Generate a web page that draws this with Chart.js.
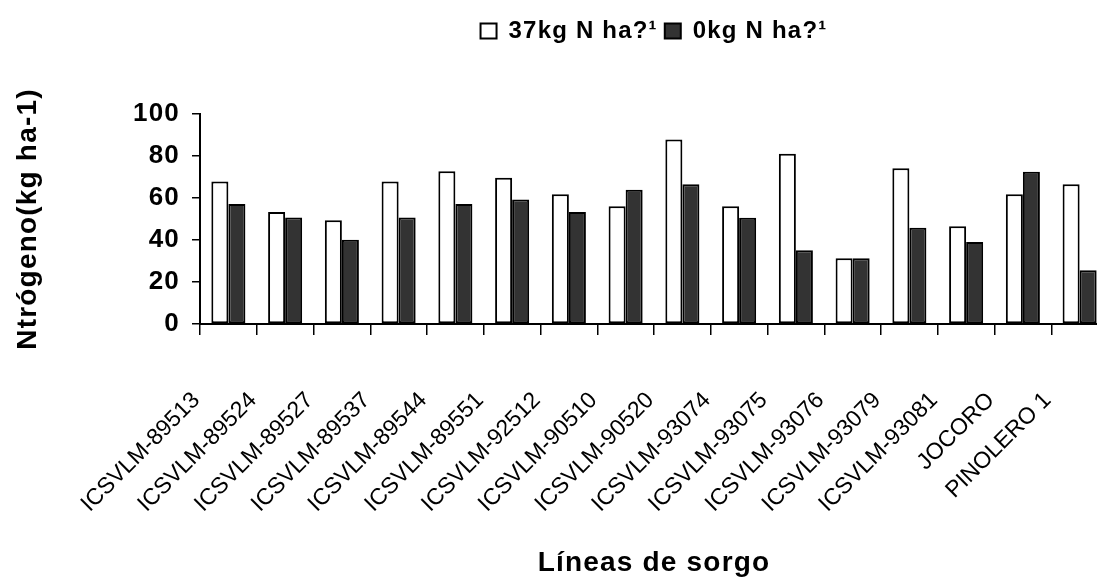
<!DOCTYPE html>
<html>
<head>
<meta charset="utf-8">
<script src="https://cdn.jsdelivr.net/npm/chart.js@4.4.1/dist/chart.umd.min.js"></script>
<style>
  html, body { margin: 0; padding: 0; background: #fff; overflow: hidden; }
  #wrap { width: 1108px; height: 579px; }
</style>
</head>
<body>
<div id="wrap"><canvas id="c" width="1108" height="579"></canvas></div>
<script>
const categories = ['ICSVLM-89513','ICSVLM-89524','ICSVLM-89527','ICSVLM-89537','ICSVLM-89544','ICSVLM-89551','ICSVLM-92512','ICSVLM-90510','ICSVLM-90520','ICSVLM-93074','ICSVLM-93075','ICSVLM-93076','ICSVLM-93079','ICSVLM-93081','JOCORO','PINOLERO 1'];
const series37 = [67.9, 53.3, 49.4, 67.9, 72.7, 69.6, 61.8, 56.1, 87.8, 56.1, 81.1, 31.3, 74.2, 46.6, 61.8, 66.6];
const series0 = [57.2, 50.7, 40.1, 50.7, 57.2, 59.3, 53.3, 63.9, 66.6, 50.6, 35.1, 31.3, 45.8, 39.0, 72.5, 25.6];
const seriesNames = ['37kg N ha?\u00B9', '0kg N ha?\u00B9'];
const yTicks = [0, 20, 40, 60, 80, 100];
const yTitle = 'Ntrógeno(kg ha-1)';
const xTitle = 'Líneas de sorgo';

const FONT = "'Liberation Sans', Arial, Helvetica, sans-serif";

// Titles and legend are drawn with a little letter spacing; category labels without.
const spacingPlugin = {
  id: 'textSpacing',
  beforeLayout(chart) { chart.ctx.letterSpacing = '1.2px'; },
  beforeDraw(chart) { chart.ctx.letterSpacing = '1.2px'; },
  afterDatasetsDraw(chart) { chart.ctx.letterSpacing = '0px'; }
};

new Chart(document.getElementById('c'), {
  type: 'bar',
  plugins: [spacingPlugin],
  data: {
    labels: categories,
    datasets: [
      { label: seriesNames[0], data: series37, backgroundColor: '#ffffff', borderColor: '#000000', borderWidth: 2, borderSkipped: false, barPercentage: 1.0, categoryPercentage: 0.6 },
      { label: seriesNames[1], data: series0, backgroundColor: '#333333', borderColor: '#000000', borderWidth: 2, borderSkipped: false, barPercentage: 1.0, categoryPercentage: 0.6 }
    ]
  },
  options: {
    responsive: false,
    animation: false,
    devicePixelRatio: 1,
    layout: { padding: { top: 12, left: 0, right: 0, bottom: 0 } },
    plugins: {
      tooltip: { enabled: false },
      legend: {
        position: 'top',
        fullSize: false,
        labels: {
          font: { family: FONT, size: 24, weight: 'bold' },
          color: '#000',
          boxWidth: 16,
          boxHeight: 15,
          padding: 7
        }
      },
      title: {
        display: true,
        text: ' ',
        position: 'top',
        weight: 500,
        font: { size: 10 },
        padding: { top: 0, bottom: 49 }
      }
    },
    scales: {
      x: {
        grid: { display: true, drawOnChartArea: false, drawTicks: true, tickLength: 11, color: '#000', lineWidth: 1.5, offset: true },
        border: { display: true, color: '#000', width: 2 },
        ticks: {
          font: { family: FONT, size: 23 },
          color: '#000',
          minRotation: 45,
          maxRotation: 45,
          autoSkip: false,
          padding: 52,
          labelOffset: -32,
          z: 1
        },
        title: {
          display: true,
          text: xTitle,
          font: { family: FONT, size: 28, weight: 'bold', lineHeight: 1.1 },
          color: '#000',
          padding: { top: 0, bottom: 0 }
        },
        afterFit: (scale) => { scale.height = 255; scale.paddingLeft = 0; scale.paddingRight = 0; }
      },
      y: {
        min: 0,
        max: 100,
        afterBuildTicks: (scale) => { scale.ticks = yTicks.map(v => ({ value: v })); },
        grid: { display: true, drawOnChartArea: false, drawTicks: true, tickLength: 8, color: '#000', lineWidth: 1.5 },
        border: { display: true, color: '#000', width: 2 },
        ticks: {
          font: { family: FONT, size: 26, weight: 'bold' },
          color: '#000',
          padding: 12
        },
        title: {
          display: true,
          text: yTitle,
          font: { family: FONT, size: 28, weight: 'bold' },
          color: '#000',
          padding: { top: 11, bottom: 0 }
        },
        afterFit: (scale) => { scale.width = 200; }
      }
    }
  }
});
</script>
</body>
</html>
